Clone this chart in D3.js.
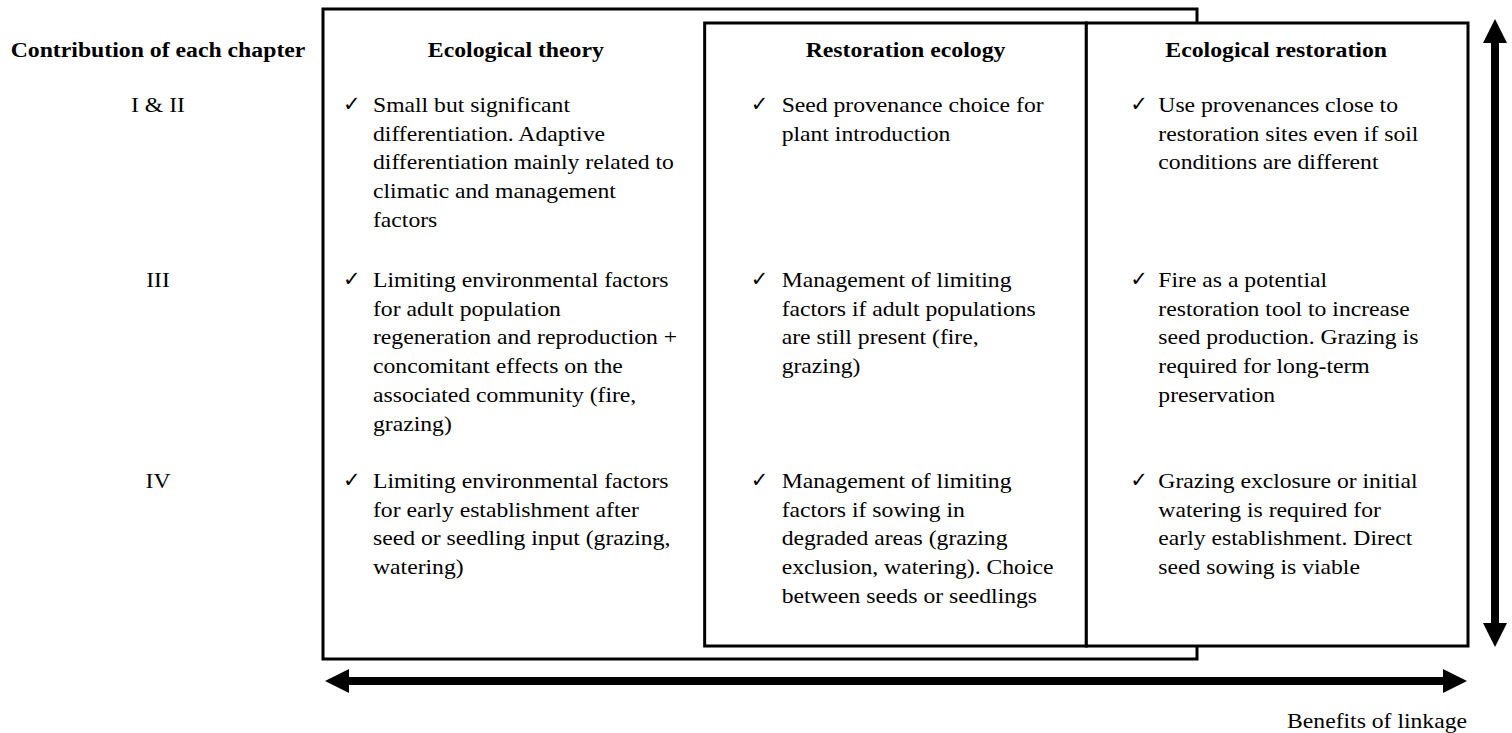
<!DOCTYPE html>
<html>
<head>
<meta charset="utf-8">
<script src="https://cdn.jsdelivr.net/npm/d3@7/dist/d3.min.js"></script>
<style>
  html, body { margin: 0; padding: 0; background: #fff; }
  svg { display: block; }
</style>
</head>
<body>
<svg id="chart" width="1512" height="733"></svg>
<script>
// ---------- data ----------
const rowHeader = "Contribution of each chapter";
const chapters = ["I & II", "III", "IV"];
const columns = ["Ecological theory", "Restoration ecology", "Ecological restoration"];

const theoryItems = [
  ["Small but significant", "differentiation. Adaptive", "differentiation mainly related to", "climatic and management", "factors"],
  ["Limiting environmental factors", "for adult population", "regeneration and reproduction +", "concomitant effects on the", "associated community (fire,", "grazing)"],
  ["Limiting environmental factors", "for early establishment after", "seed or seedling input (grazing,", "watering)"]
];
const restorationEcologyItems = [
  ["Seed provenance choice for", "plant introduction"],
  ["Management of limiting", "factors if adult populations", "are still present (fire,", "grazing)"],
  ["Management of limiting", "factors if sowing in", "degraded areas (grazing", "exclusion, watering). Choice", "between seeds or seedlings"]
];
const ecologicalRestorationItems = [
  ["Use provenances close to", "restoration sites even if soil", "conditions are different"],
  ["Fire as a potential", "restoration tool to increase", "seed production. Grazing is", "required for long-term", "preservation"],
  ["Grazing exclosure or initial", "watering is required for", "early establishment. Direct", "seed sowing is viable"]
];
const axisLabel = "Benefits of linkage";

// ---------- layout ----------
const svg = d3.select("#chart");
const serif = "'Liberation Serif', 'Times New Roman', Times, serif";
const SX = 1.1;
const fs = 21.5, fsB = 22;
const lineH = 28.7;

const x = d3.scaleBand().domain(columns).range([323, 1468]).padding(0);
const y = d3.scalePoint().domain(chapters).range([112, 488]);
const rowOffset = { "I & II": 0, "III": -13, "IV": 0 };
const rowY = c => y(c) + rowOffset[c];
const headerY = 57;
const checkDx = [20, 46, 44];
const textDx  = [50, 77, 72];
const headerShift = [2, 10, -1];
const cellData = [theoryItems, restorationEcologyItems, ecologicalRestorationItems];

function txt(g, str, X, Y, opts = {}) {
  const gg = g.append("g").attr("transform", `translate(${X},${Y}) scale(${opts.sx ?? SX},1)`);
  gg.append("text")
    .attr("x", 0).attr("y", 0)
    .attr("text-anchor", opts.anchor || "start")
    .attr("font-family", opts.family || serif)
    .attr("font-size", opts.size || fs)
    .attr("font-weight", opts.weight || "normal")
    .attr("fill", "#000")
    .text(str);
  return gg;
}

// ---------- boxes ----------
const colL = c => x(c);
const bigBox = { x0: colL(columns[0]), x1: 1197, y0: 9, y1: 659 };
svg.append("rect")
  .attr("x", bigBox.x0).attr("y", bigBox.y0)
  .attr("width", bigBox.x1 - bigBox.x0).attr("height", bigBox.y1 - bigBox.y0)
  .attr("fill", "#fff").attr("stroke", "#000").attr("stroke-width", 3);

const innerTop = 23, innerBot = 646;
[columns[1], columns[2]].forEach(c => {
  svg.append("rect")
    .attr("x", colL(c)).attr("y", innerTop)
    .attr("width", x.bandwidth()).attr("height", innerBot - innerTop)
    .attr("fill", "#fff").attr("stroke", "#000").attr("stroke-width", 3);
});

// ---------- headers ----------
const g = svg.append("g");
txt(g, rowHeader, 158, headerY, { anchor: "middle", weight: "bold", size: fsB, sx: 1.08 });
columns.forEach((c, i) => {
  const cx = x(c) + x.bandwidth() / 2 + headerShift[i];
  txt(g, c, cx, headerY, { anchor: "middle", weight: "bold", size: fsB, sx: 1.08 });
});

chapters.forEach(c => txt(g, c, 158, rowY(c), { anchor: "middle" }));

// ---------- cells ----------
columns.forEach((c, ci) => {
  chapters.forEach((ch, ri) => {
    const lines = cellData[ci][ri];
    const by = rowY(ch);
    txt(g, "\u2713", x(c) + checkDx[ci], by - 1, { family: "'DejaVu Sans', sans-serif", size: 21, sx: 1 });
    lines.forEach((ln, li) => txt(g, ln, x(c) + textDx[ci], by + li * lineH));
  });
});

// ---------- arrows ----------
function dblArrowH(yc, xa, xb, head, headW, shaft) {
  const p = d3.path();
  p.moveTo(xa, yc);
  p.lineTo(xa + head, yc - headW / 2);
  p.lineTo(xa + head, yc - shaft / 2);
  p.lineTo(xb - head, yc - shaft / 2);
  p.lineTo(xb - head, yc - headW / 2);
  p.lineTo(xb, yc);
  p.lineTo(xb - head, yc + headW / 2);
  p.lineTo(xb - head, yc + shaft / 2);
  p.lineTo(xa + head, yc + shaft / 2);
  p.lineTo(xa + head, yc + headW / 2);
  p.closePath();
  return p.toString();
}
function dblArrowV(xc, ya, yb, head, headW, shaft) {
  const p = d3.path();
  p.moveTo(xc, ya);
  p.lineTo(xc + headW / 2, ya + head);
  p.lineTo(xc + shaft / 2, ya + head);
  p.lineTo(xc + shaft / 2, yb - head);
  p.lineTo(xc + headW / 2, yb - head);
  p.lineTo(xc, yb);
  p.lineTo(xc - headW / 2, yb - head);
  p.lineTo(xc - shaft / 2, yb - head);
  p.lineTo(xc - shaft / 2, ya + head);
  p.lineTo(xc - headW / 2, ya + head);
  p.closePath();
  return p.toString();
}
svg.append("path").attr("d", dblArrowH(681, 325, 1467, 24, 24, 8)).attr("fill", "#000");
svg.append("path").attr("d", dblArrowV(1495, 19, 647, 24, 24, 8)).attr("fill", "#000");

txt(g, axisLabel, 1467, 728, { anchor: "end" });
</script>
</body>
</html>
